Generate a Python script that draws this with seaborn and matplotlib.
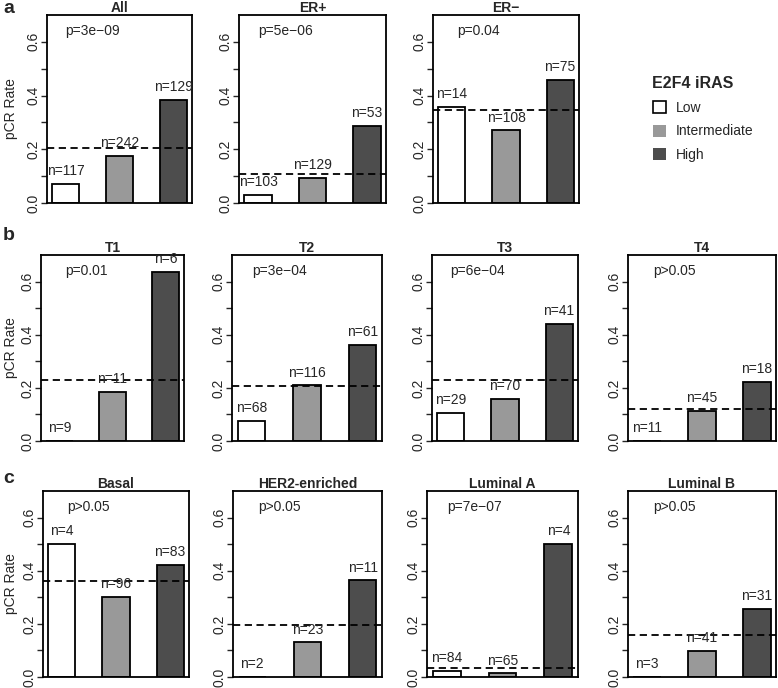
import numpy as np
import pandas as pd
import seaborn as sns
import matplotlib.pyplot as plt
from matplotlib.patches import Patch

levels = ['Low', 'Intermediate', 'High']
colors = ['#ffffff', '#999999', '#4d4d4d']

# row a: ER status
titles_a = ['All', 'ER+', 'ER\u2212']
rate_a = [[0.070, 0.176, 0.384], [0.031, 0.094, 0.286], [0.359, 0.270, 0.457]]
n_a = [[117, 242, 129], [103, 129, 53], [14, 108, 75]]
overall_a = [0.204, 0.108, 0.346]
p_a = ['p=3e\u221209', 'p=5e\u221206', 'p=0.04']

# row b: tumour size
titles_b = ['T1', 'T2', 'T3', 'T4']
rate_b = [[0.0, 0.184, 0.637], [0.075, 0.209, 0.362], [0.106, 0.159, 0.440], [0.0, 0.112, 0.222]]
n_b = [[9, 11, 6], [68, 116, 61], [29, 70, 41], [11, 45, 18]]
overall_b = [0.231, 0.207, 0.229, 0.122]
p_b = ['p=0.01', 'p=3e\u221204', 'p=6e\u221204', 'p>0.05']

# row c: PAM50 subtype
titles_c = ['Basal', 'HER2-enriched', 'Luminal A', 'Luminal B']
rate_c = [[0.500, 0.302, 0.423], [0.0, 0.130, 0.364], [0.023, 0.014, 0.500], [0.0, 0.097, 0.257]]
n_c = [[4, 96, 83], [2, 23, 11], [84, 65, 4], [3, 41, 31]]
overall_c = [0.361, 0.194, 0.034, 0.159]
p_c = ['p>0.05', 'p>0.05', 'p=7e\u221207', 'p>0.05']

sns.set_style('white')
plt.rcParams['font.family'] = ['Liberation Sans', 'DejaVu Sans']

W, H = 778, 688
fig = plt.figure(figsize=(W / 100, H / 100), dpi=100)


def add_box(l, r, top, bottom):
    return fig.add_axes([l / W, 1 - bottom / H, (r - l) / W, (bottom - top) / H])


def panel(ax, title, rates, ns, overall, ptxt):
    df = pd.DataFrame({'iRAS': levels, 'rate': rates})
    sns.barplot(data=df, x='iRAS', y='rate', hue='iRAS', order=levels, hue_order=levels,
                palette=dict(zip(levels, colors)), saturation=1, width=0.5,
                edgecolor='black', linewidth=1.3, legend=False, ax=ax)
    ax.axhline(overall, color='black', ls=(0, (4, 2.5)), lw=1.3)
    for i, (v, n) in enumerate(zip(rates, ns)):
        ax.text(i, v + 0.048, f'n={n}', ha='center', va='center', fontsize=10)
    ax.text(0.5, 0.64, ptxt, ha='center', va='center', fontsize=10)
    ax.set_xlim(-0.35, 2.35)
    ax.set_ylim(0, 0.7)
    ticks = np.round(np.arange(0, 0.61, 0.1), 1)
    ax.set_yticks(ticks)
    ax.set_yticklabels([f'{t:.1f}' if i % 2 == 0 else '' for i, t in enumerate(ticks)])
    ax.tick_params(axis='y', left=True, direction='out', length=4, width=1,
                   labelsize=10, labelrotation=90, pad=0.5)
    for lab in ax.get_yticklabels():
        lab.set_va('center')
    ax.set_xticks([])
    ax.set_xlabel('')
    ax.set_ylabel('')
    ax.set_title(title, fontweight='bold', fontsize=10, pad=0)
    for s in ax.spines.values():
        s.set_visible(True)
        s.set_color('black')
        s.set_linewidth(1.3)


rows = [
    (titles_a, rate_a, n_a, overall_a, p_a, [(47, 193), (239, 387), (433, 580)], (15, 203)),
    (titles_b, rate_b, n_b, overall_b, p_b, [(41, 185), (232, 383), (432, 579), (628, 777)], (255, 441)),
    (titles_c, rate_c, n_c, overall_c, p_c, [(43, 190), (233, 383), (427, 579), (628, 777)], (491, 677)),
]

for titles, rates, ns, overall, ps, xs, (top, bottom) in rows:
    for j, (l, r) in enumerate(xs):
        ax = add_box(l, r - 1, top, bottom)
        panel(ax, titles[j], rates[j], ns[j], overall[j], ps[j])
    fig.text(11 / W, 1 - (top + bottom) / 2 / H, 'pCR Rate', rotation=90,
             ha='center', va='center', fontsize=10)

for letter, yb in zip(['a', 'b', 'c'], [13, 240, 483]):
    fig.text(3 / W, 1 - yb / H, letter, fontweight='bold', fontsize=14, va='baseline', ha='left')

handles = [Patch(facecolor=c, edgecolor='black' if c == '#ffffff' else 'none', linewidth=1.2)
           for c in colors]
fig.legend(handles=handles, labels=levels, title='E2F4 iRAS', loc='upper left',
           bbox_to_anchor=(640 / W, 1 - 64 / H), frameon=False, fontsize=10,
           title_fontproperties={'weight': 'bold', 'size': 11.5}, alignment='left',
           handlelength=0.95, handleheight=0.95, handletextpad=0.7, labelspacing=0.68)

fig.savefig('out.png', dpi=100)
